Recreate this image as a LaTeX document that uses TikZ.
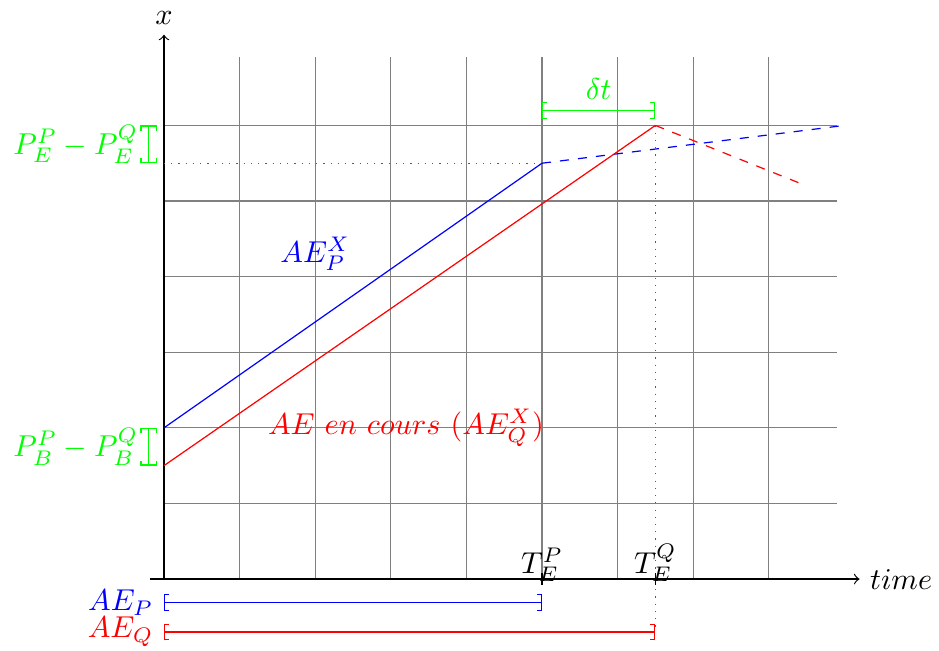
\documentclass[tikz,border=0pt]{standalone}
\usetikzlibrary{arrows}
\definecolor{pblue}{RGB}{0,0,255}
\definecolor{qred}{RGB}{255,0,0}
\definecolor{mgreen}{RGB}{0,255,0}
\begin{document}
\begin{tikzpicture}[x=0.88cm,y=0.88cm,
  gridline/.style={gray,thin},
  axisline/.style={->,black},
  brk/.style={{[-]},thin},
  dotline/.style={dotted,gray!70!black}]
\useasboundingbox (-2.169,-0.939) rectangle (10.251,7.659);
% grid
\foreach \i in {1,...,8} {\draw[gridline] (\i,0) -- (\i,6.9);}
\foreach \j in {1,...,6} {\draw[gridline] (0,\j) -- (8.9,\j);}
% axes
\coordinate (xs) at (-0.18,0);
\coordinate (xe) at (9.2,0);
\coordinate (ys) at (0,0);
\coordinate (ye) at (0,7.2);
\draw[axisline] (xs) -- (xe) node[right] (tl) {$time$};
\draw[axisline] (ys) -- (ye) node[above] (xl) {$x$};
% key points
\coordinate (bP) at (0,2);
\coordinate (eP) at (5,5.5);
\coordinate (fP) at (9,6);
\coordinate (bQ) at (0,1.5);
\coordinate (eQ) at (6.5,6);
\coordinate (fQ) at (8.5,5.2);
\coordinate (yP) at (0,5.5);
\coordinate (dQ) at (6.5,-0.7);
% AE brackets
\coordinate (aPa) at (0,-0.31);
\coordinate (aPb) at (5,-0.31);
\coordinate (aQa) at (0,-0.7);
\coordinate (aQb) at (6.5,-0.7);
\draw[brk,draw=pblue] (aPa) -- (aPb);
\draw[brk,draw=qred] (aQa) -- (aQb);
\node[text=pblue,left] (aPl) at (aPa) {$AE_P$};
\node[text=qred,left] (aQl) at (aQa) {$AE_Q$};
% lines
\draw[dotline] (yP) -- (eP);
\draw[dotline] (eQ) -- (dQ);
\draw[pblue] (bP) -- (eP);
\draw[pblue,dashed] (eP) -- (fP);
\draw[qred] (bQ) -- (eQ);
\draw[qred,dashed] (eQ) -- (fQ);
% ticks and T labels
\coordinate (tPa) at (5,0.08);
\coordinate (tPb) at (5,-0.08);
\coordinate (tQa) at (6.5,0.08);
\coordinate (tQb) at (6.5,-0.08);
\draw (tPa) -- (tPb);
\draw (tQa) -- (tQb);
\node[anchor=base] (TP) at (5,0.08) {$T_E^P$};
\node[anchor=base] (TQ) at (6.5,0.08) {$T_E^Q$};
% delta t bracket
\coordinate (da) at (5,6.2);
\coordinate (db) at (6.5,6.2);
\draw[brk,mgreen] (da) -- (db) node[midway,above] (dt) {$\delta t$};
% P_E bracket
\coordinate (pea) at (-0.2,6);
\coordinate (peb) at (-0.2,5.5);
\draw[brk,mgreen] (pea) -- (peb) node[midway,left] (pel) {$P_E^P - P_E^Q$};
% P_B bracket
\coordinate (pba) at (-0.2,2);
\coordinate (pbb) at (-0.2,1.5);
\draw[brk,mgreen] (pba) -- (pbb) node[midway,left] (pbl) {$P_B^P - P_B^Q$};
% line labels
\node[text=pblue] (lP) at (2,4.3) {$AE_P^X$};
\node[text=qred] (lQ) at (3.2,2) {$AE\ en\ cours\ (AE_Q^X)$};
\end{tikzpicture}
\end{document}
